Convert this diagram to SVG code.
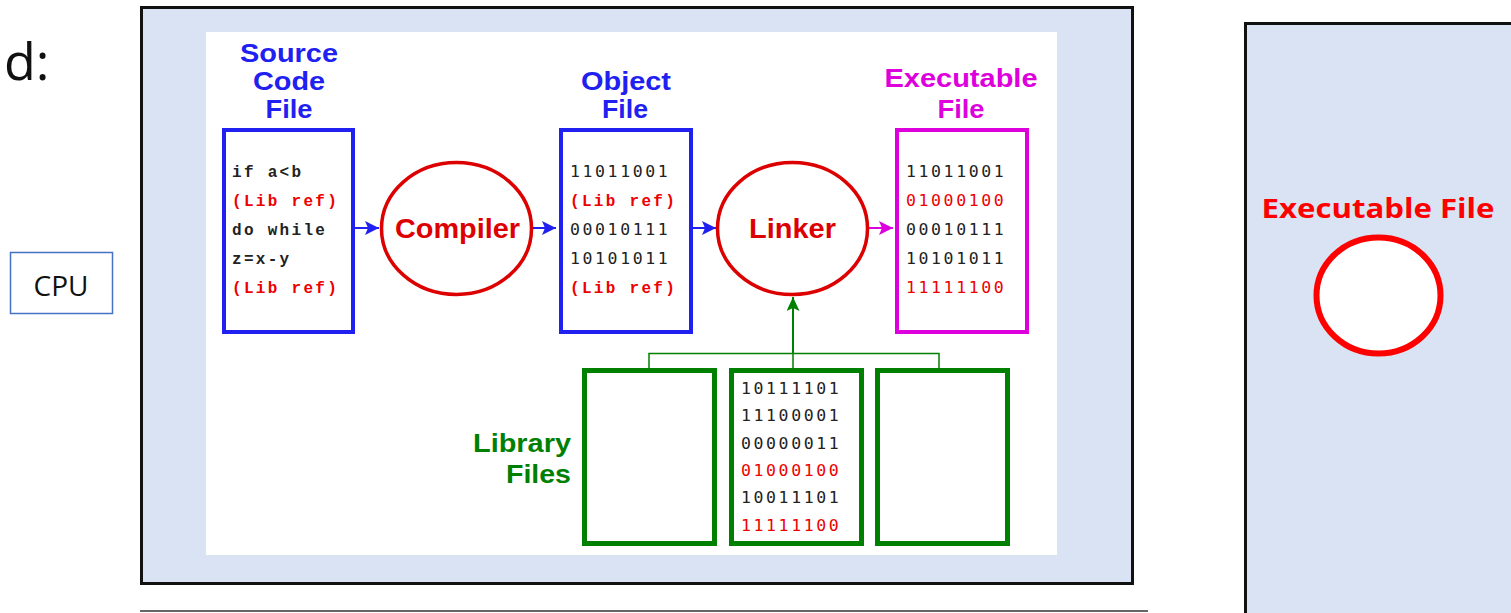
<svg xmlns="http://www.w3.org/2000/svg" width="1511" height="613" viewBox="0 0 1511 613">
<style>
.lbl{font-family:"Liberation Sans",Arial,sans-serif;font-weight:bold;font-size:25px;text-anchor:middle}
.code{font-family:"Liberation Mono","Courier New",monospace;font-weight:bold;font-size:16px;letter-spacing:2.3px}
.bin{font-family:"DejaVu Sans Mono",monospace;font-size:16.5px;letter-spacing:2.6px;fill:#222}
.red{fill:#ee0000}
.blk{fill:#222}
.blue{fill:#2020f0}
.mag{fill:#dd00dd}
.grn{fill:#008000}
.proc{fill:#fff;stroke:#dd0000;stroke-width:3.5}
.ptxt{font-family:"Liberation Sans",Arial,sans-serif;font-weight:bold;font-size:27px;fill:#dd0000;text-anchor:middle}
.gbox{fill:#fff;stroke:#008000;stroke-width:5}
</style>
<defs>
<marker id="ab" markerUnits="userSpaceOnUse" markerWidth="16" markerHeight="16" refX="14" refY="7" orient="auto"><path d="M0,0 L14,7 L0,14 L3,7 z" fill="#2020f0"/></marker>
<marker id="am" markerUnits="userSpaceOnUse" markerWidth="16" markerHeight="16" refX="14" refY="7" orient="auto"><path d="M0,0 L14,7 L0,14 L3,7 z" fill="#dd00dd"/></marker>
<marker id="ag" markerUnits="userSpaceOnUse" markerWidth="16" markerHeight="16" refX="14" refY="6.5" orient="auto"><path d="M0,0 L14,6.5 L0,13 L3,6.5 z" fill="#008000"/></marker>
</defs>
<rect width="1511" height="613" fill="#fff"/>
<g id="title"><text x="4" y="80" font-family="'Open Sans',sans-serif" font-size="52" fill="#111">d:</text></g>
<g id="cpu"><rect x="10.5" y="252.5" width="102" height="61" fill="#fff" stroke="#4472c4" stroke-width="1.5"/><text x="61" y="296" font-family="'Open Sans',sans-serif" font-size="28" text-anchor="middle" fill="#111">CPU</text></g>
<g id="panel">
<rect x="141.5" y="7.5" width="991" height="576" fill="#dae3f3" stroke="#111" stroke-width="3"/>
<rect x="206" y="32" width="851" height="523" fill="#fff"/>
</g>
<line x1="140" y1="611" x2="1148" y2="611" stroke="#333" stroke-width="1.5"/>
<g id="source">
<text class="lbl blue" x="289" y="62" textLength="98" lengthAdjust="spacingAndGlyphs">Source</text>
<text class="lbl blue" x="289" y="90" textLength="72" lengthAdjust="spacingAndGlyphs">Code</text>
<text class="lbl blue" x="289" y="118" textLength="47" lengthAdjust="spacingAndGlyphs">File</text>
<rect x="224" y="130" width="129" height="202" fill="#fff" stroke="#2020f0" stroke-width="4"/>
<text class="code"><tspan x="232" y="177" class="blk">if a&lt;b</tspan><tspan x="232" y="206" class="red">(Lib ref)</tspan><tspan x="232" y="235" class="blk">do while</tspan><tspan x="232" y="264" class="blk">z=x-y</tspan><tspan x="232" y="293" class="red">(Lib ref)</tspan></text>
</g>
<g id="compiler"><ellipse class="proc" cx="456.5" cy="228.5" rx="75" ry="66"/><text class="ptxt" x="457.5" y="238" textLength="125" lengthAdjust="spacingAndGlyphs">Compiler</text></g>
<g id="object">
<text class="lbl blue" x="626" y="90" textLength="90" lengthAdjust="spacingAndGlyphs">Object</text>
<text class="lbl blue" x="625" y="118" textLength="46" lengthAdjust="spacingAndGlyphs">File</text>
<rect x="561" y="130" width="130" height="202" fill="#fff" stroke="#2020f0" stroke-width="4"/>
<text class="bin"><tspan x="570" y="177">11011001</tspan></text>
<text class="code red" x="570" y="206">(Lib ref)</text>
<text class="bin"><tspan x="570" y="235">00010111</tspan><tspan x="570" y="264">10101011</tspan></text>
<text class="code red" x="570" y="293">(Lib ref)</text>
</g>
<g id="linker"><ellipse class="proc" cx="792.5" cy="228.5" rx="75" ry="66"/><text class="ptxt" x="792.5" y="238" textLength="87" lengthAdjust="spacingAndGlyphs">Linker</text></g>
<g id="executable">
<text class="lbl mag" x="961" y="87" textLength="153" lengthAdjust="spacingAndGlyphs">Executable</text>
<text class="lbl mag" x="961" y="118" textLength="47" lengthAdjust="spacingAndGlyphs">File</text>
<rect x="897" y="130" width="130" height="202" fill="#fff" stroke="#dd00dd" stroke-width="4"/>
<text class="bin"><tspan x="906" y="177">11011001</tspan><tspan x="906" y="206" class="red">01000100</tspan><tspan x="906" y="235">00010111</tspan><tspan x="906" y="264">10101011</tspan><tspan x="906" y="293" class="red">11111100</tspan></text>
</g>
<g id="library">
<text class="lbl grn" x="571" y="452" style="text-anchor:end" textLength="98" lengthAdjust="spacingAndGlyphs">Library</text>
<text class="lbl grn" x="571" y="483" style="text-anchor:end" textLength="65" lengthAdjust="spacingAndGlyphs">Files</text>
<rect class="gbox" x="584.5" y="370.5" width="130" height="173"/>
<rect class="gbox" x="731.5" y="370.5" width="130" height="173"/>
<rect class="gbox" x="877.5" y="370.5" width="130" height="173"/>
<text class="bin"><tspan x="741" y="394">10111101</tspan><tspan x="741" y="421">11100001</tspan><tspan x="741" y="449">00000011</tspan><tspan x="741" y="476" class="red">01000100</tspan><tspan x="741" y="503">10011101</tspan><tspan x="741" y="531" class="red">11111100</tspan></text>
</g>
<g id="connectors" fill="none">
<line x1="355" y1="228" x2="379" y2="228" stroke="#2020f0" stroke-width="2" marker-end="url(#ab)"/>
<line x1="533" y1="228" x2="556" y2="228" stroke="#2020f0" stroke-width="2" marker-end="url(#ab)"/>
<line x1="692" y1="228" x2="716" y2="228" stroke="#2020f0" stroke-width="2" marker-end="url(#ab)"/>
<line x1="869" y1="228" x2="893" y2="228" stroke="#dd00dd" stroke-width="2" marker-end="url(#am)"/>
<path d="M649,368 V353.5 H939 V368 M793,368 V353.5" stroke="#008000" stroke-width="1.5"/>
<line x1="793" y1="354" x2="793" y2="297" stroke="#008000" stroke-width="2" marker-end="url(#ag)"/>
</g>
<g id="right-panel">
<rect x="1245.5" y="23.5" width="280" height="600" fill="#dae3f3" stroke="#111" stroke-width="3"/>
<text x="1378" y="218" font-family="'Open Sans',sans-serif" font-weight="bold" font-size="26" fill="#ff0000" text-anchor="middle" textLength="233" lengthAdjust="spacingAndGlyphs">Executable File</text>
<ellipse cx="1378.5" cy="295.5" rx="62" ry="58" fill="#fff" stroke="#ff0000" stroke-width="6"/>
</g>
</svg>
